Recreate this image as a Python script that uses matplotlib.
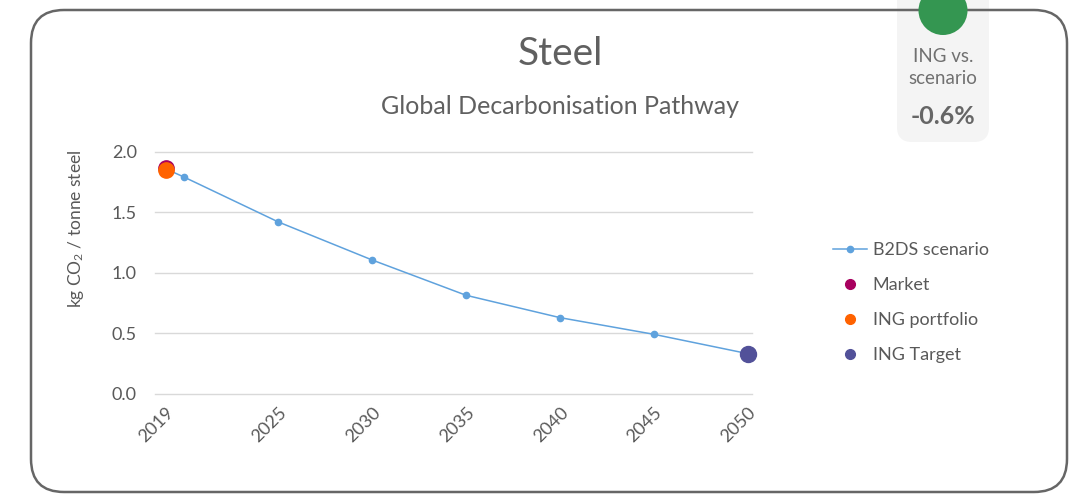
import matplotlib
matplotlib.use("Agg")
import matplotlib.pyplot as plt
from matplotlib.patches import FancyBboxPatch, Circle
from matplotlib.lines import Line2D

plt.rcParams['font.family'] = ['Lato', 'DejaVu Sans']
plt.rcParams['mathtext.default'] = 'regular'

# ---- data ----
years = [2019, 2020, 2025, 2030, 2035, 2040, 2045, 2050]
b2ds = [1.86, 1.79, 1.42, 1.105, 0.813, 0.628, 0.49, 0.33]
market_year, market_val = [2019], [1.87]
portfolio_year, portfolio_val = [2019], [1.85]
target_year, target_val = [2050], [0.33]
xticks = [2019, 2025, 2030, 2035, 2040, 2045, 2050]
yticks = [0.0, 0.5, 1.0, 1.5, 2.0]
title = "Steel"
subtitle = "Global Decarbonisation Pathway"
ylabel = "kg CO$_2$ / tonne steel"
badge_lines = ["ING vs.", "scenario"]
badge_value = "-0.6%"

W, H = 1069, 497
fig = plt.figure(figsize=(W / 100, H / 100), dpi=100)

# overlay in pixel coords (y downward)
ov = fig.add_axes([0, 0, 1, 1], zorder=-1)
ov.set_xlim(0, W)
ov.set_ylim(H, 0)
ov.axis('off')

badge = FancyBboxPatch((897, -30), 92, 172, boxstyle="round,pad=0,rounding_size=15",
                       fc='#F4F4F4', ec='none', zorder=1)
ov.add_patch(badge)
border = FancyBboxPatch((31, 10), 1036, 482, boxstyle="round,pad=0,rounding_size=33",
                        fc='none', ec='#666666', lw=1.8, zorder=2)
ov.add_patch(border)
ov.add_patch(Circle((943, 10.5), 24.5, fc='#349651', ec='none', zorder=3))
ov.text(943, 57, badge_lines[0], ha='center', va='center', fontsize=13.5, color='#707070')
ov.text(943, 78, badge_lines[1], ha='center', va='center', fontsize=13.5, color='#707070')
ov.text(943, 117, badge_value, ha='center', va='center', fontsize=18, color='#666666',
        fontweight='bold')
ov.text(560, 54, title, ha='center', va='center', fontsize=28, color='#606060')
ov.text(560, 106, subtitle, ha='center', va='center', fontsize=18, color='#606060')

# main axes
left_px, right_px, top_px, bot_px = 155, 752, 151.9, 393.5
ax = fig.add_axes([left_px / W, (H - bot_px) / H, (right_px - left_px) / W, (bot_px - top_px) / H])
ax.set_facecolor('none')

line_c = '#5FA2DD'
ax.plot(years, b2ds, color=line_c, lw=1.1, marker='o', ms=4.5, zorder=3)
ax.plot(market_year, market_val, 'o', color='#A8005F', ms=11, zorder=4)
ax.plot(portfolio_year, portfolio_val, 'o', color='#FF6200', ms=11, zorder=5)
ax.plot(target_year, target_val, 'o', color='#525199', ms=11.5, zorder=5, clip_on=False)

x0 = 2019 - (165.7 - left_px) / 18.77
x1 = 2050 + (right_px - 747.7) / 18.77
ax.set_xlim(x0, x1)
ax.set_ylim(0, 2.0)
ax.set_yticks(yticks)
ax.set_yticklabels([f"{v:.1f}" for v in yticks])
ax.set_xticks(xticks)
ax.set_xticklabels([str(x) for x in xticks], rotation=45, ha='right', va='top',
                   rotation_mode='anchor')
ax.tick_params(axis='both', length=0, labelsize=13, labelcolor='#595959')
ax.tick_params(axis='y', pad=13)
ax.tick_params(axis='x', pad=8)
ax.grid(axis='y', color='#D9D9D9', lw=1)
for gl in ax.get_ygridlines():
    gl.set_clip_on(False)
ax.set_axisbelow(True)
for s in ax.spines.values():
    s.set_visible(False)
ax.set_ylabel(ylabel, fontsize=12.5, color='#595959')
ax.yaxis.set_label_coords((86 - left_px) / (right_px - left_px), (bot_px - 229) / (bot_px - top_px))

handles = [
    Line2D([], [], color=line_c, lw=1.1, marker='o', ms=4.5),
    Line2D([], [], ls='none', marker='o', color='#A8005F', ms=7),
    Line2D([], [], ls='none', marker='o', color='#FF6200', ms=7),
    Line2D([], [], ls='none', marker='o', color='#525199', ms=7),
]
labels = ["B2DS scenario", "Market", "ING portfolio", "ING Target"]
fig.legend(handles, labels, loc='center left', bbox_to_anchor=(833 / W, (H - 302.5) / H),
           frameon=False, fontsize=13, labelcolor='#595959', handlelength=1.9,
           handletextpad=0.3, labelspacing=1.05, borderpad=0, borderaxespad=0)

fig.savefig('out.png', dpi=100)
